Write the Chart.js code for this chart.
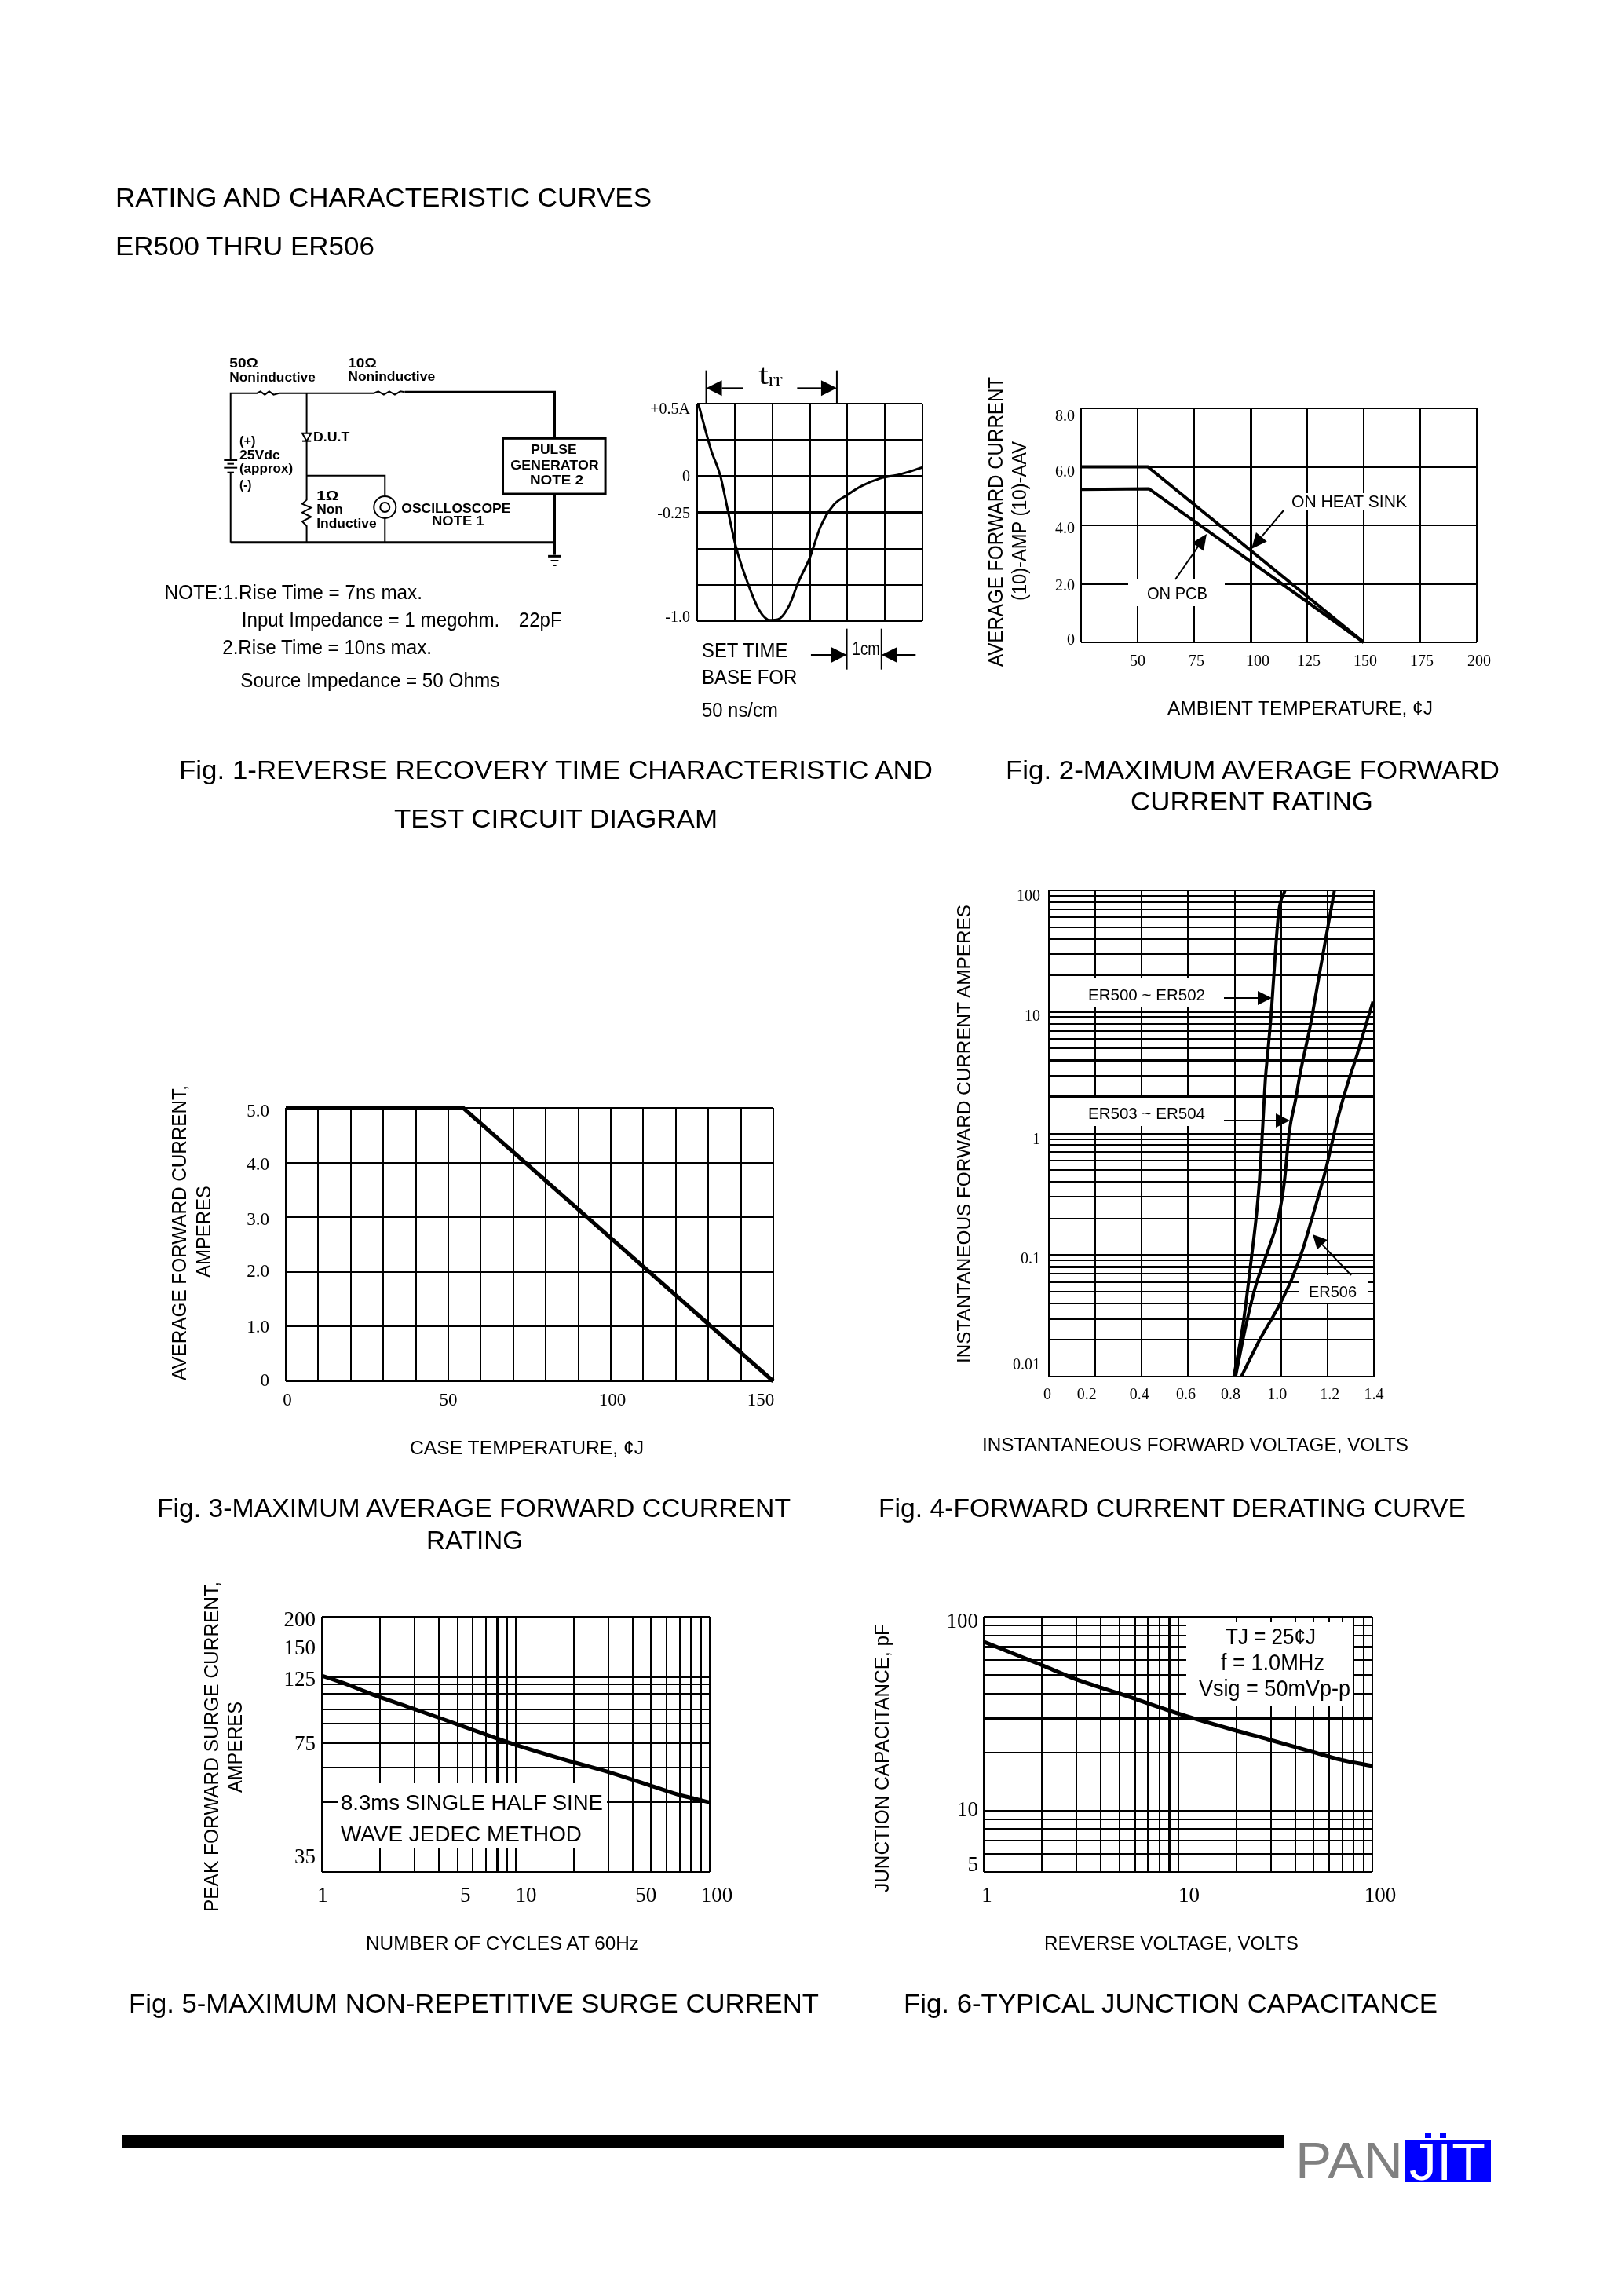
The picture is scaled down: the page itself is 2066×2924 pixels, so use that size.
<!DOCTYPE html>
<html>
<head>
<meta charset="utf-8">
<title>ER500 THRU ER506</title>
<script src="https://cdn.jsdelivr.net/npm/chart.js@4"></script>
<style>
  html, body { margin: 0; background: #fff; }
  #page { position: relative; width: 2066px; height: 2924px; overflow: hidden; background: #fff; }
  #page canvas { position: absolute; }
  #overlay { position: absolute; left: 0; top: 0; }
</style>
</head>
<body>
<div id="page"><svg id="overlay" width="2066" height="2924" xmlns="http://www.w3.org/2000/svg"></svg></div>
<script>
// Fig. 1 - recovery waveform
const fig1XTicks = [0, 1, 2, 3, 4, 5, 6];
const fig1YTicks = [-1, -0.75, -0.5, -0.25, 0, 0.25, 0.5];
const fig1YText = ['-1.0', '', '', '-0.25', '0', '', '+0.5A'];
const fig1X = [0.03, 0.37, 0.62, 0.82, 1.03, 1.35, 1.65, 1.94, 2.16, 2.46, 2.68, 3.0, 3.29, 3.63, 4.0, 4.37, 4.88, 5.4, 6.0];
const fig1Y = [0.5, 0.18, 0, -0.24, -0.485, -0.74, -0.924, -0.993, -0.987, -0.888, -0.74, -0.562, -0.346, -0.2, -0.129, -0.069, -0.015, 0.012, 0.06];

// Fig. 2 - ambient derating
const fig2XTicks = [25, 50, 75, 100, 125, 150, 175, 200];
const fig2XText = ['', '50', '75', '100', '125', '150', '175', '200'];
const fig2YTicks = [0, 2, 4, 6, 8];
const fig2YText = ['0', '2.0', '4.0', '6.0', '8.0'];
const fig2HeatX = [25, 54.5, 150];
const fig2HeatY = [6, 6, 0];
const fig2PcbX = [25, 55, 150];
const fig2PcbY = [5.23, 5.25, 0];

// Fig. 3 - case derating
const fig3XTicks = [0, 10, 20, 30, 40, 50, 60, 70, 80, 90, 100, 110, 120, 130, 140, 150];
const fig3XText = ['0', '', '', '', '', '50', '', '', '', '', '100', '', '', '', '', '150'];
const fig3YTicks = [0, 1, 2, 3, 4, 5];
const fig3YText = ['0', '1.0', '2.0', '3.0', '4.0', '5.0'];
const fig3X = [0, 54.6, 150];
const fig3Y = [5, 5, 0];

// Fig. 4 - forward characteristics
const fig4XTicks = [0, 0.2, 0.4, 0.6, 0.8, 1.0, 1.2, 1.4];
const fig4XText = ['0', '0.2', '0.4', '0.6', '0.8', '1.0', '1.2', '1.4'];
const fig4YTicks = [0.01, 0.02, 0.03, 0.04, 0.05, 0.06, 0.07, 0.08, 0.09, 0.1, 0.2, 0.3, 0.4, 0.5, 0.6, 0.7, 0.8, 0.9, 1, 2, 3, 4, 5, 6, 7, 8, 9, 10, 20, 30, 40, 50, 60, 70, 80, 90, 100];
const fig4YLabelled = [0.01, 0.1, 1, 10, 100];
const er500X = [0.797, 0.836, 0.875, 0.894, 0.907, 0.92, 0.933, 0.942, 0.959, 0.978, 0.991, 1.017];
const er500Y = [0.01, 0.0265, 0.104, 0.214, 0.41, 1.05, 2.88, 4.43, 10.5, 35.9, 68.7, 100];
const er503X = [0.804, 0.849, 0.894, 0.946, 0.991, 1.014, 1.036, 1.062, 1.082, 1.127, 1.159, 1.191, 1.23];
const er503Y = [0.01, 0.0265, 0.0585, 0.112, 0.214, 0.396, 1.05, 1.87, 3.09, 7.9, 17.5, 38.6, 100];
const er506X = [0.829, 0.907, 0.995, 1.049, 1.094, 1.133, 1.191, 1.243, 1.282, 1.327, 1.36, 1.396];
const er506Y = [0.01, 0.0199, 0.0394, 0.0652, 0.112, 0.2, 0.491, 1.3, 2.4, 4.43, 7.24, 12.2];

// Fig. 5 - surge current
const fig5XTicks = [1, 2, 3, 4, 5, 6, 7, 8, 9, 10, 20, 30, 40, 50, 60, 70, 80, 90, 100];
const fig5XLabelled = [1, 5, 10, 50, 100];
const fig5YTicks = [27.7, 35, 47.5, 62.2, 75, 87.3, 97.4, 109.8, 118.3, 125, 150, 200];
const fig5YLabelled = [35, 75, 125, 150, 200];
const fig5X = [1, 1.3, 1.91, 2.93, 4.92, 9.78, 19.5, 29.1, 48.9, 68.5, 100];
const fig5Y = [126.7, 119.5, 108.4, 98.4, 87.3, 74.5, 65, 60.5, 54.2, 50.5, 47.5];

// Fig. 6 - junction capacitance
const fig6XTicks = [1, 2, 3, 4, 5, 6, 7, 8, 9, 10, 20, 30, 40, 50, 60, 70, 80, 90, 100];
const fig6XLabelled = [1, 10, 100];
const fig6YTicks = [4.83, 5, 6, 7, 8, 9, 10, 20, 30, 40, 50, 60, 70, 80, 90, 100];
const fig6YLabelled = [5, 10, 100];
const fig6X = [1, 1.97, 2.97, 4.99, 9.9, 19.6, 29.2, 49.2, 68.9, 100];
const fig6Y = [74.4, 56.6, 47.7, 40.2, 31.8, 26, 23.3, 20.1, 18.3, 17];

const page = document.getElementById('page');
const overlay = document.getElementById('overlay');
const SERIF = '"Liberation Serif"';
const SANS = '"Liberation Sans"';

function zip(xs, ys) {
    return xs.map((x, i) => ({ x: x, y: ys[i] }));
}

// Moves single tick labels, the datasheet does not centre them on their lines
function nudgePlugin(xNudge, yNudge) {
    return {
        id: 'nudgeTicks',
        beforeDraw(chart) {
            [['x', xNudge], ['y', yNudge]].forEach(([id, nudge]) => {
                chart.scales[id].getLabelItems().forEach(item => {
                    if (item.nudged) return;
                    const n = nudge[item.label];
                    if (n) {
                        item.options.translation[id === 'x' ? 0 : 1] += n;
                    }
                    item.nudged = true;
                });
            });
        }
    };
}

function axisOptions(a) {
    return {
        type: a.type || 'linear',
        min: a.min,
        max: a.max,
        afterBuildTicks: s => { s.ticks = a.ticks.map(v => ({ value: v })); },
        afterFit: s => {
            if (a.width !== undefined) s.width = a.width;
            if (a.height !== undefined) s.height = a.height;
            // keep the plot rectangle where it was measured
            s.paddingTop = s.paddingBottom = s.paddingLeft = s.paddingRight = 0;
        },
        border: { display: false },
        grid: {
            drawTicks: false,
            color: c => (c.tick && (a.noLine || []).includes(c.tick.value)) ? 'rgba(0,0,0,0)' : '#000',
            lineWidth: c => (c.tick && (a.heavy || []).includes(c.tick.value)) ? 3 : 2
        },
        ticks: {
            display: a.text !== null,
            autoSkip: false,
            maxRotation: 0,
            minRotation: 0,
            padding: a.pad,
            color: '#000',
            font: { family: SERIF, size: a.size },
            callback: (v, i) => a.text ? a.text[i] : ''
        }
    };
}

// box is the plot rectangle on the page
function makeChart(box, x, y, datasets) {
    const [l, t, r, b] = box;
    const left = 90, top = 15, right = 45, bottom = 60;
    const canvas = document.createElement('canvas');
    canvas.width = r - l + left + right;
    canvas.height = b - t + top + bottom;
    canvas.style.left = (l - left) + 'px';
    canvas.style.top = (t - top) + 'px';
    page.insertBefore(canvas, overlay);
    x.height = bottom;
    y.width = left;
    return new Chart(canvas.getContext('2d'), {
        type: 'scatter',
        data: {
            datasets: datasets.map(d => ({
                data: d.data,
                showLine: true,
                borderColor: '#000',
                borderWidth: d.width,
                pointRadius: 0,
                cubicInterpolationMode: d.smooth ? 'monotone' : 'default',
                clip: false
            }))
        },
        options: {
            responsive: false,
            animation: false,
            devicePixelRatio: 1,
            layout: { autoPadding: false, padding: { top: top, right: right, left: 0, bottom: 0 } },
            scales: { x: axisOptions(x), y: axisOptions(y) },
            plugins: { legend: { display: false }, tooltip: { enabled: false } }
        },
        plugins: [nudgePlugin(x.nudge || {}, y.nudge || {})]
    });
}

function labelsFor(ticks, labelled) {
    return ticks.map(v => labelled.includes(v) ? String(v) : '');
}

makeChart([888, 514, 1175, 791],
    { min: 0, max: 6, ticks: fig1XTicks, text: null },
    { min: -1, max: 0.5, ticks: fig1YTicks, text: fig1YText, pad: 9, size: 20, heavy: [-0.25],
      nudge: { '+0.5A': 8, '0': 1, '-0.25': 2, '-1.0': -4 } },
    [{ data: zip(fig1X, fig1Y), width: 3, smooth: true }]);

makeChart([1377, 520, 1881, 818],
    { min: 25, max: 200, ticks: fig2XTicks, text: fig2XText, pad: 13, size: 20, heavy: [100],
      nudge: { '75': 3, '100': 9, '125': 2, '150': 2, '175': 2, '200': 3 } },
    { min: 0, max: 8, ticks: fig2YTicks, text: fig2YText, pad: 8, size: 20, heavy: [6],
      nudge: { '8.0': 11, '6.0': 7, '4.0': 5, '2.0': 3, '0': -2 } },
    [{ data: zip(fig2HeatX, fig2HeatY), width: 4 }, { data: zip(fig2PcbX, fig2PcbY), width: 4 }]);

makeChart([364, 1411, 985, 1759],
    { min: 0, max: 150, ticks: fig3XTicks, text: fig3XText, pad: 11, size: 23,
      nudge: { '0': 2, '100': 2, '150': -16 } },
    { min: 0, max: 5, ticks: fig3YTicks, text: fig3YText, pad: 21, size: 23,
      nudge: { '5.0': 5, '4.0': 3, '3.0': 4, '1.0': 2 } },
    [{ data: zip(fig3X, fig3Y), width: 5 }]);

makeChart([1336, 1134, 1750, 1753],
    { min: 0, max: 1.4, ticks: fig4XTicks, text: fig4XText, pad: 12, size: 20,
      nudge: { '0': -2, '0.2': -11, '0.4': -3, '0.6': -3, '0.8': -5, '1.0': -5, '1.2': 3 } },
    { type: 'logarithmic', min: 0.01, max: 100, ticks: fig4YTicks, text: labelsFor(fig4YTicks, fig4YLabelled),
      pad: 11, size: 20, heavy: [9, 4, 2, 0.8, 0.4, 0.08, 0.03],
      nudge: { '100': 8, '10': 6, '1': 8, '0.1': 5, '0.01': -14 } },
    [{ data: zip(er500X, er500Y), width: 4, smooth: true }, { data: zip(er503X, er503Y), width: 4, smooth: true }, { data: zip(er506X, er506Y), width: 4, smooth: true }]);

makeChart([410, 2059, 904, 2384],
    { type: 'logarithmic', min: 1, max: 100, ticks: fig5XTicks, text: labelsFor(fig5XTicks, fig5XLabelled),
      pad: 15, size: 27, heavy: [8, 50],
      nudge: { '1': 1, '5': 10, '10': 13, '50': -7, '100': 9 } },
    { type: 'logarithmic', min: 27.7, max: 200, ticks: fig5YTicks, text: labelsFor(fig5YTicks, fig5YLabelled),
      pad: 8, size: 27, heavy: [109.8], noLine: [35, 150],
      nudge: { '200': 5, '150': -6, '125': 4, '75': 2, '35': 20 } },
    [{ data: zip(fig5X, fig5Y), width: 5, smooth: true }]);

makeChart([1253, 2059, 1748, 2384],
    { type: 'logarithmic', min: 1, max: 100, ticks: fig6XTicks, text: labelsFor(fig6XTicks, fig6XLabelled),
      pad: 15, size: 27, heavy: [2, 7, 9],
      nudge: { '1': 4, '10': 14, '100': 10 } },
    { type: 'logarithmic', min: 4.83, max: 100, ticks: fig6YTicks, text: labelsFor(fig6YTicks, fig6YLabelled),
      pad: 7, size: 27, heavy: [70, 30, 8], noLine: [5],
      nudge: { '100': 7, '5': -4 } },
    [{ data: zip(fig6X, fig6Y), width: 5, smooth: true }]);

// ---- overlay: page text, circuit diagram, call-outs ----
function el(name, attrs, content) {
    const e = document.createElementNS('http://www.w3.org/2000/svg', name);
    Object.keys(attrs).forEach(k => e.setAttribute(k, attrs[k]));
    if (content !== undefined) e.textContent = content;
    overlay.appendChild(e);
    return e;
}

function text(str, x0, x1, y, size, o) {
    o = o || {};
    el('text', {
        x: x0, y: y,
        'font-family': o.family || SANS,
        'font-size': size,
        'font-weight': o.bold ? 'bold' : 'normal',
        fill: o.fill || '#000',
        textLength: x1 - x0,
        lengthAdjust: 'spacingAndGlyphs'
    }, str);
}

// rotated 90deg, reads bottom to top
function vtext(str, x, yStart, yEnd, size) {
    el('text', {
        x: x, y: yStart,
        transform: 'rotate(-90 ' + x + ' ' + yStart + ')',
        'font-family': SANS,
        'font-size': size,
        fill: '#000',
        textLength: yStart - yEnd,
        lengthAdjust: 'spacingAndGlyphs'
    }, str);
}

function mask(x0, y0, x1, y1) {
    el('rect', { x: x0, y: y0, width: x1 - x0, height: y1 - y0, fill: '#fff' });
}

function line(x1, y1, x2, y2, w) {
    el('line', { x1: x1, y1: y1, x2: x2, y2: y2, stroke: '#000', 'stroke-width': w || 2 });
}

function poly(points, w) {
    el('polyline', { points: points.map(p => p.join(',')).join(' '), fill: 'none', stroke: '#000', 'stroke-width': w || 2 });
}

function arrow(x1, y1, tx, ty, len, half) {
    const d = Math.hypot(tx - x1, ty - y1), ux = (tx - x1) / d, uy = (ty - y1) / d;
    line(x1, y1, tx - ux * len, ty - uy * len, 2);
    const bx = tx - ux * len, by = ty - uy * len;
    el('polygon', {
        points: [tx, ty, bx - uy * half, by + ux * half, bx + uy * half, by - ux * half].join(' '),
        fill: '#000'
    });
}

// page headings and captions
text('RATING AND CHARACTERISTIC CURVES', 147, 830, 263, 34);
text('ER500 THRU ER506', 147, 477, 325, 34);
text('Fig. 1-REVERSE RECOVERY TIME CHARACTERISTIC AND', 228, 1188, 992, 34);
text('TEST CIRCUIT DIAGRAM', 502, 914, 1054, 34);
text('Fig. 2-MAXIMUM AVERAGE FORWARD', 1281, 1910, 992, 34);
text('CURRENT RATING', 1440, 1749, 1032, 34);
text('Fig. 3-MAXIMUM AVERAGE FORWARD CCURRENT', 200, 1007, 1932, 34);
text('RATING', 543, 666, 1973, 34);
text('Fig. 4-FORWARD CURRENT DERATING CURVE', 1119, 1867, 1932, 34);
text('Fig. 5-MAXIMUM NON-REPETITIVE SURGE CURRENT', 164, 1043, 2563, 34);
text('Fig. 6-TYPICAL JUNCTION CAPACITANCE', 1151, 1831, 2563, 34);

// Fig. 1 circuit
const cx = x => 180 + x / 1.4245;
const cy = y => 430 + y / 3;
const cp = (x, y) => [cx(x), cy(y)];
function ctext(str, x0, x1, y, size, o) {
    text(str, cx(x0), cx(x1), cy(y), size, o);
}
poly([cp(162, 465), cp(162, 212), cp(210, 212), cp(216, 205), cp(224, 218), cp(232, 205), cp(240, 218), cp(250, 212), cp(422, 212), cp(430, 205), cp(440, 218), cp(450, 205), cp(460, 218), cp(470, 205), cp(478, 208)]);
poly([cp(478, 208), cp(750, 208), cp(750, 385)], 3);
el('rect', { x: cx(656), y: cy(385), width: cx(842) - cx(656), height: cy(597) - cy(385), fill: 'none', stroke: '#000', 'stroke-width': 3 });
poly([cp(750, 597), cp(750, 830)], 3);
line(cx(738), cy(835), cx(762), cy(835), 3);
line(cx(743), cy(852), cx(757), cy(852), 2);
line(cx(747), cy(870), cx(753), cy(870), 2);
poly([cp(162, 782), cp(750, 782)], 3);
poly([cp(162, 515), cp(162, 782)]);
line(cx(150), cy(468), cx(174), cy(468), 2);
line(cx(156), cy(482), cx(168), cy(482), 2);
line(cx(150), cy(497), cx(174), cy(497), 2);
line(cx(156), cy(515), cx(168), cy(515), 2);
poly([cp(300, 212), cp(300, 365)]);
el('polygon', { points: [cp(292, 365), cp(308, 365), cp(300, 395)].join(' '), fill: 'none', stroke: '#000', 'stroke-width': 2 });
line(cx(292), cy(395), cx(308), cy(395), 2);
poly([cp(300, 395), cp(300, 620), cp(292, 635), cp(308, 650), cp(292, 668), cp(308, 685), cp(292, 702), cp(300, 720), cp(300, 782)]);
poly([cp(300, 527), cp(442, 527), cp(442, 605)]);
el('ellipse', { cx: cx(442), cy: cy(648), rx: 14, ry: 14, fill: 'none', stroke: '#000', 'stroke-width': 2 });
el('circle', { cx: cx(442), cy: cy(648), r: 6, fill: 'none', stroke: '#000', 'stroke-width': 2 });
poly([cp(442, 690), cp(442, 782)]);

const bold = { bold: true };
ctext('50Ω', 160, 212, 115, 17, bold);
ctext('Noninductive', 160, 316, 168, 17, bold);
ctext('10Ω', 375, 427, 115, 17, bold);
ctext('Noninductive', 375, 533, 165, 17, bold);
ctext('(+)', 178, 207, 410, 17, bold);
ctext('25Vdc', 178, 252, 465, 17, bold);
ctext('(approx)', 178, 275, 515, 17, bold);
ctext('(-)', 178, 200, 580, 17, bold);
ctext('D.U.T', 312, 378, 395, 17, bold);
ctext('PULSE', 707, 790, 443, 17, bold);
ctext('GENERATOR', 670, 830, 503, 17, bold);
ctext('NOTE  2', 705, 802, 560, 17, bold);
ctext('1Ω', 318, 358, 620, 17, bold);
ctext('Non', 318, 366, 673, 17, bold);
ctext('Inductive', 318, 427, 725, 17, bold);
ctext('OSCILLOSCOPE', 472, 670, 668, 17, bold);
ctext('NOTE  1', 527, 622, 718, 17, bold);

ctext('NOTE:1.Rise Time = 7ns max.', 42, 510, 1000, 25);
ctext('Input Impedance = 1 megohm.', 182, 650, 1105, 25);
ctext('22pF', 685, 763, 1105, 25);
ctext('2.Rise Time = 10ns max.', 147, 527, 1210, 25);
ctext('Source Impedance = 50 Ohms', 180, 650, 1335, 25);

ctext('SET TIME', 1017, 1173, 1220, 25);
ctext('BASE FOR', 1017, 1190, 1322, 25);
ctext('50 ns/cm', 1017, 1155, 1448, 25);
ctext('1cm', 1290, 1340, 1213, 24);
arrow(cx(1215), cy(1212), cx(1280), cy(1212), 20, 10);
arrow(cx(1405), cy(1212), cx(1343), cy(1212), 20, 10);
line(cx(1280), cy(1112), cx(1280), cy(1268), 2);
line(cx(1343), cy(1112), cx(1343), cy(1268), 2);

ctext('t', 1120, 1138, 178, 36, { family: SERIF });
ctext('rr', 1138, 1163, 182, 24, { family: SERIF });
arrow(cx(1092), cy(193), cx(1025), cy(193), 20, 10);
arrow(cx(1190), cy(193), cx(1262), cy(193), 20, 10);
line(cx(1025), cy(125), cx(1025), cy(250), 2);
line(cx(1262), cy(125), cx(1262), cy(250), 2);

// Fig. 2 text
vtext('AVERAGE FORWARD CURRENT', 1277, 849, 480, 25);
vtext('(10)-AMP (10)-AAV', 1307, 765, 562, 25);
text('AMBIENT TEMPERATURE, ¢J', 1487, 1825, 910, 24);
mask(1637, 628, 1798, 650);
text('ON HEAT SINK', 1645, 1792, 646, 22);
mask(1437, 738, 1560, 772);
text('ON PCB', 1461, 1538, 763, 22);
arrow(1635, 650, 1594, 699, 20, 9);
arrow(1497, 738, 1537, 680, 20, 9);

// Fig. 3 text
vtext('AVERAGE FORWARD CURRENT,', 237, 1758, 1382, 25);
vtext('AMPERES', 268, 1627, 1510, 25);
text('CASE TEMPERATURE, ¢J', 522, 820, 1852, 24);

// Fig. 4 text
vtext('INSTANTANEOUS FORWARD CURRENT AMPERES', 1236, 1736, 1152, 24);
text('INSTANTANEOUS FORWARD VOLTAGE, VOLTS', 1251, 1794, 1848, 24);
mask(1338, 1245, 1555, 1283);
mask(1338, 1398, 1555, 1434);
mask(1654, 1624, 1742, 1660);
text('ER500 ~ ER502', 1386, 1535, 1274, 21);
text('ER503 ~ ER504', 1386, 1535, 1425, 21);
text('ER506', 1667, 1728, 1652, 21);
arrow(1559, 1271, 1620, 1271, 18, 9);
arrow(1559, 1427, 1643, 1427, 18, 9);
arrow(1721, 1624, 1672, 1572, 18, 9);

// Fig. 5 text
vtext('PEAK FORWARD SURGE CURRENT,', 278, 2435, 2014, 25);
vtext('AMPERES', 308, 2283, 2167, 25);
text('NUMBER OF CYCLES AT 60Hz', 466, 814, 2483, 24);
mask(431, 2271, 773, 2353);
text('8.3ms SINGLE HALF SINE', 434, 768, 2305, 28);
text('WAVE JEDEC METHOD', 434, 741, 2345, 28);

// Fig. 6 text
vtext('JUNCTION CAPACITANCE, pF', 1132, 2410, 2068, 25);
text('REVERSE VOLTAGE, VOLTS', 1330, 1654, 2483, 24);
mask(1511, 2066, 1724, 2173);
text('TJ = 25¢J', 1561, 1676, 2094, 30);
text('f = 1.0MHz', 1555, 1687, 2127, 30);
text('Vsig = 50mVp-p', 1527, 1720, 2160, 30);

// footer rule and logo
el('rect', { x: 155, y: 2719, width: 1480, height: 17, fill: '#000' });
text('PAN', 1650, 1787, 2774, 65, { fill: '#808080' });
el('rect', { x: 1789, y: 2725, width: 110, height: 54, fill: '#0000ff' });
el('rect', { x: 1815, y: 2716, width: 8, height: 7, fill: '#0000ff' });
el('rect', { x: 1834, y: 2716, width: 8, height: 7, fill: '#0000ff' });
text('JIT', 1795, 1892, 2776, 65, { fill: '#fff' });
</script>
</body>
</html>
